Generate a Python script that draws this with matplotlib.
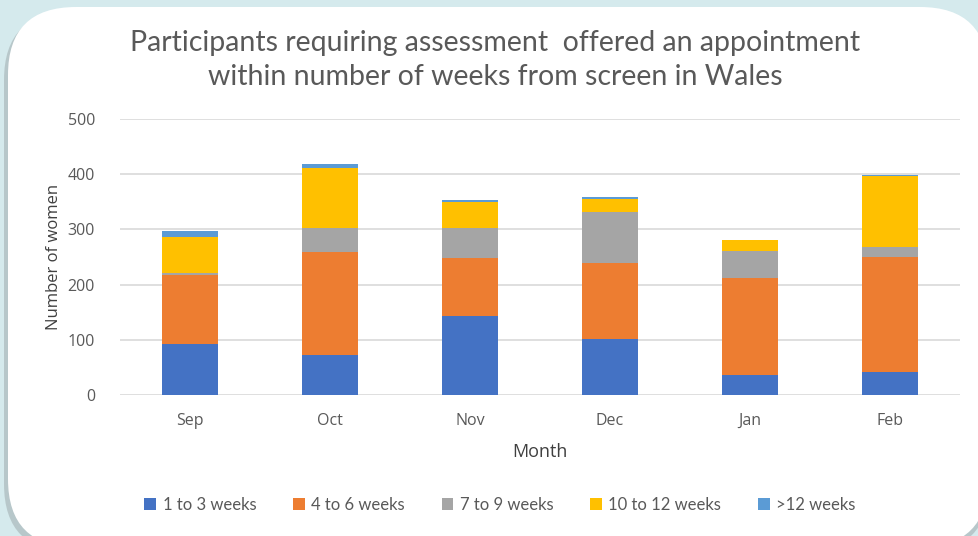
import matplotlib
matplotlib.use("Agg")
import numpy as np
import matplotlib.pyplot as plt
from matplotlib.patches import FancyBboxPatch

months = ["Sep", "Oct", "Nov", "Dec", "Jan", "Feb"]
series_names = ["1 to 3 weeks", "4 to 6 weeks", "7 to 9 weeks", "10 to 12 weeks", ">12 weeks"]
w1_3 = [92, 72, 143, 101, 36, 42]
w4_6 = [125, 187, 106, 138, 176, 208]
w7_9 = [4, 43, 54, 93, 48, 19]
w10_12 = [66, 109, 47, 23, 20, 127]
w_over12 = [11, 7, 4, 4, 0, 3]
colors = ["#4472C4", "#ED7D31", "#A5A5A5", "#FFC000", "#5B9BD5"]

W, H = 979, 536
fig = plt.figure(figsize=(W / 100, H / 100), dpi=100)
fig.patch.set_facecolor("#d5eaed")

# background panel drawn in pixel units
bg = fig.add_axes([0, 0, 1, 1], zorder=-1)
bg.set_xlim(0, W)
bg.set_ylim(H, 0)
bg.axis("off")
shadow = FancyBboxPatch((4, 12), 985, 540, boxstyle="round,pad=0,rounding_size=68",
                        facecolor="#9aa6a8", edgecolor="none", alpha=0.5)
bg.add_patch(shadow)
panel = FancyBboxPatch((8, 7), 980, 540, boxstyle="round,pad=0,rounding_size=68",
                       facecolor="white", edgecolor="none")
bg.add_patch(panel)

ax = fig.add_axes([120 / W, 1 - 395 / H, 840 / W, 276 / H])
ax.set_facecolor("none")

x = np.arange(len(months))
bottom = np.zeros(len(months))
for name, vals, c in zip(series_names, [w1_3, w4_6, w7_9, w10_12, w_over12], colors):
    ax.bar(x, vals, width=0.4, bottom=bottom, color=c, label=name, zorder=3)
    bottom += np.array(vals)

ax.set_xlim(-0.5, len(months) - 0.5)
ax.set_ylim(0, 500)
ax.set_yticks(range(0, 501, 100))
ax.set_xticks(x)
ax.set_xticklabels(months)
ax.grid(axis="y", color="#d9d9d9", linewidth=1.2, zorder=0)
for s in ax.spines.values():
    s.set_visible(False)
ax.tick_params(length=0, colors="#595959", labelsize=11.5)
ax.tick_params(axis="x", pad=13)
ax.tick_params(axis="y", pad=18)
for lab in ax.get_xticklabels() + ax.get_yticklabels():
    lab.set_family("Open Sans")

ax.set_ylabel("Number of women", family="Open Sans", fontsize=12, color="#404040", labelpad=4)
ax.set_xlabel("Month", family="Open Sans", fontsize=13, color="#404040", labelpad=10)

fig.text(495 / W, 1 - 60 / H,
         "Participants requiring assessment  offered an appointment\nwithin number of weeks from screen in Wales",
         ha="center", va="center", family="Lato", fontsize=20.5, color="#595959", linespacing=1.35)

fig.legend(loc="center", bbox_to_anchor=(500 / W, 1 - 505 / H), ncol=5, frameon=False,
           prop={"family": "Lato", "size": 12}, labelcolor="#595959",
           handlelength=0.7, handleheight=0.7, handletextpad=0.4, columnspacing=2.2)

fig.savefig("out.png", dpi=100, facecolor=fig.get_facecolor())
